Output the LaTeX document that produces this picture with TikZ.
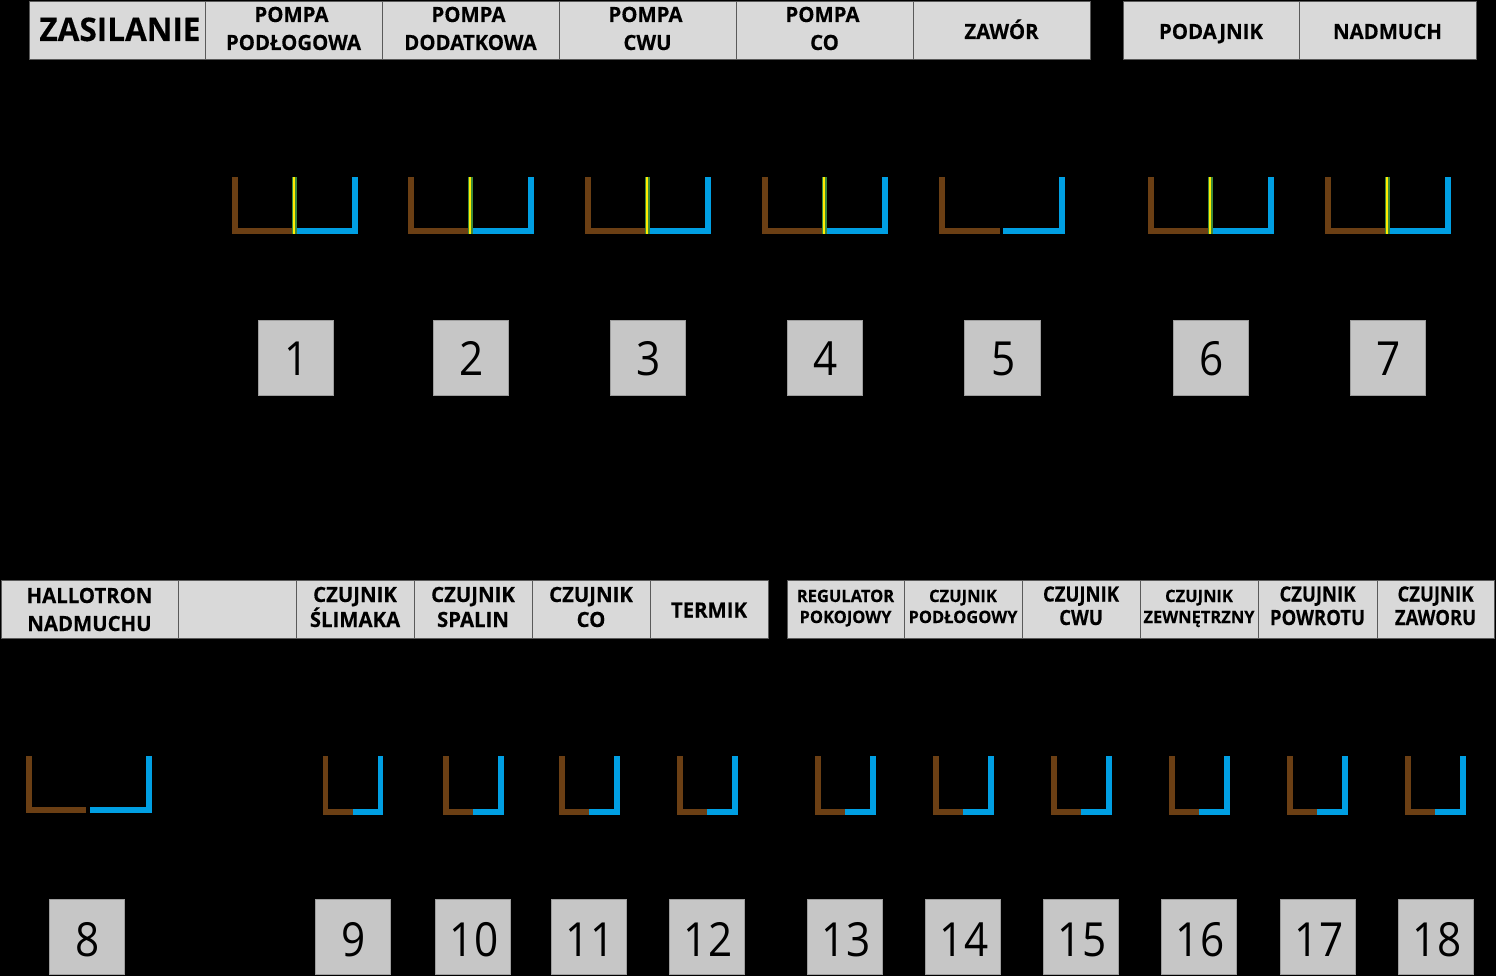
\documentclass[tikz,border=0pt]{standalone}
\usepackage{fontspec}
\setmainfont[FakeStretch=0.9]{Open Sans}
\newfontfamily\NarrowHead[FakeStretch=0.88,BoldFeatures={FakeBold=0.3}]{Open Sans}
\newfontfamily\WideHead[FakeStretch=0.97,BoldFeatures={FakeBold=0.3}]{Open Sans}
\definecolor{wirebrown}{HTML}{6B3F14}
\definecolor{wireblue}{HTML}{009FE3}
\definecolor{wiregreen}{HTML}{3C8A3A}
\definecolor{wireyellow}{HTML}{FFED00}
\definecolor{cellgray}{HTML}{D9D9D9}
\definecolor{boxgray}{HTML}{C6C6C6}
\definecolor{edgegray}{HTML}{5A5A5A}

% #1 name, #2 left, #3 brown end, #4 blue start, #5 right, #6 top, #7 bottom
\newcommand{\WirePair}[7]{
\coordinate (#1a) at (#2, #6);
\coordinate (#1b) at (#2, #7);
\coordinate (#1c) at (#3, #7);
\coordinate (#1d) at (#4, #7);
\coordinate (#1e) at (#5, #7);
\coordinate (#1f) at (#5, #6);
\draw[BrownWire] (#1a) -- (#1b) -- (#1c);
\draw[BlueWire] (#1d) -- (#1e) -- (#1f);
}
% #1 name, #2 x, #3 top, #4 bottom
\newcommand{\EarthWire}[4]{
\coordinate (#1g) at (#2, #3);
\coordinate (#1h) at (#2, #4);
\draw[GreenWire] (#1g) -- (#1h);
\draw[YellowWire] (#1g) -- (#1h);
}

\begin{document}
\begin{tikzpicture}[x = 1pt, y = -1pt]
\tikzstyle{HeadStyle}=[shape = rectangle,
                         fill = cellgray,
                         draw = edgegray,
                         line width = 0.8pt,
                         inner sep = 0pt,
                         minimum height = 58pt,
                         align = center,
                         font = \WideHead\fontsize{21}{28}\selectfont\bfseries]
\tikzstyle{OneLine}=[text height = 18pt, text depth = 0pt]
\tikzstyle{TwoLine}=[text height = 40pt, text depth = 0pt]
\tikzstyle{LowLeft}=[text height = 36pt, text depth = 0pt, font = \WideHead\fontsize{21}{25}\selectfont\bfseries]
\tikzstyle{LowRight}=[text height = 32pt, text depth = 0pt, font = \NarrowHead\fontsize{21}{23.5}\selectfont\bfseries]
\tikzstyle{SmallHead}=[text height = 28pt, text depth = 0pt, font = \WideHead\fontsize{17}{21}\selectfont\bfseries]
\tikzstyle{NumStyle}=[shape = rectangle,
                         fill = boxgray,
                         draw = boxgray!80!black,
                         line width = 0.8pt,
                         inner sep = 0pt,
                         minimum size = 75.5pt,
                         text depth = 0pt,
                         execute at begin node = {\hspace*{2pt}},
                         font = \fontsize{47}{47}\selectfont]
\tikzstyle{BrownWire}=[draw = wirebrown, line width = 5.8pt]
\tikzstyle{BlueWire}=[draw = wireblue, line width = 5.8pt]
\tikzstyle{GreenWire}=[draw = wiregreen, line width = 5pt]
\tikzstyle{YellowWire}=[draw = wireyellow, line width = 2.6pt]

\fill[black] (0, 0) rectangle (1496, 976);
\useasboundingbox (0, 0) rectangle (1496, 976);

% upper row
\node[HeadStyle, text height = 22pt, text depth = 0pt, minimum width = 176pt, font = \WideHead\fontsize{32.5}{33}\selectfont\bfseries] (zasilanie) at (117, 30) {\hspace*{6pt}ZASILANIE};
\node[HeadStyle, TwoLine, minimum width = 177pt] (pompaPodl) at (293.5, 30) {POMPA\hspace*{4pt}\\PODŁOGOWA};
\node[HeadStyle, TwoLine, minimum width = 177pt] (pompaDod) at (470.5, 30) {POMPA\hspace*{4pt}\\DODATKOWA};
\node[HeadStyle, TwoLine, minimum width = 177pt] (pompaCwu) at (647.5, 30) {POMPA\hspace*{4pt}\\CWU};
\node[HeadStyle, TwoLine, minimum width = 177pt] (pompaCo) at (824.5, 30) {POMPA\hspace*{4pt}\\CO};
\node[HeadStyle, OneLine, minimum width = 177pt] (zawor) at (1001.5, 30) {ZAWÓR};
\node[HeadStyle, OneLine, minimum width = 176pt] (podajnik) at (1211, 30) {PODAJNIK};
\node[HeadStyle, OneLine, minimum width = 177pt] (nadmuch) at (1387.5, 30) {NADMUCH};

\WirePair{w1}{235}{292}{296}{355}{177}{231}
\EarthWire{w1}{294}{177}{234}
\WirePair{w2}{411}{468}{472}{531}{177}{231}
\EarthWire{w2}{470}{177}{234}
\WirePair{w3}{588}{645}{649}{708}{177}{231}
\EarthWire{w3}{647}{177}{234}
\WirePair{w4}{765}{822}{826}{885}{177}{231}
\EarthWire{w4}{824}{177}{234}
\WirePair{w5}{942}{1000}{1003}{1062}{177}{231}
\WirePair{w6}{1151}{1208}{1212}{1271}{177}{231}
\EarthWire{w6}{1210}{177}{234}
\WirePair{w7}{1328}{1385}{1389}{1448}{177}{231}
\EarthWire{w7}{1387}{177}{234}

\node[NumStyle, text height = 34pt] (n1) at (296, 358) {1};
\node[NumStyle, text height = 34pt] (n2) at (471, 358) {2};
\node[NumStyle, text height = 34pt] (n3) at (648, 358) {3};
\node[NumStyle, text height = 34pt] (n4) at (825, 358) {4};
\node[NumStyle, text height = 34pt] (n5) at (1002.5, 358) {5};
\node[NumStyle, text height = 34pt] (n6) at (1211, 358) {6};
\node[NumStyle, text height = 34pt] (n7) at (1388, 358) {7};

% lower row
\node[HeadStyle, text height = 44pt, text depth = 0pt, minimum width = 177pt] (hallotron) at (89.5, 609) {HALLOTRON\\NADMUCHU};
\node[HeadStyle, minimum width = 118pt] (pusty) at (237, 609) {};
\node[HeadStyle, LowLeft, minimum width = 118pt] (slimak) at (355, 609) {CZUJNIK\\ŚLIMAKA};
\node[HeadStyle, LowLeft, minimum width = 118pt] (spaliny) at (473, 609) {CZUJNIK\\SPALIN};
\node[HeadStyle, LowLeft, minimum width = 118pt] (czujCo) at (591, 609) {CZUJNIK\\CO};
\node[HeadStyle, text height = 17pt, text depth = 0pt, minimum width = 118pt] (termik) at (709, 609) {TERMIK};
\node[HeadStyle, SmallHead, minimum width = 117pt] (regulator) at (845.5, 609) {REGULATOR\\POKOJOWY};
\node[HeadStyle, SmallHead, minimum width = 118pt] (czujPodl) at (963, 609) {CZUJNIK\\PODŁOGOWY};
\node[HeadStyle, LowRight, minimum width = 118pt] (czujCwu) at (1081, 609) {CZUJNIK\\CWU};
\node[HeadStyle, SmallHead, minimum width = 118pt] (czujZew) at (1199, 609) {CZUJNIK\\ZEWNĘTRZNY};
\node[HeadStyle, LowRight, minimum width = 119pt] (czujPow) at (1317.5, 609) {CZUJNIK\\POWROTU};
\node[HeadStyle, LowRight, minimum width = 117pt] (czujZaw) at (1435.5, 609) {CZUJNIK\\ZAWORU};

\WirePair{w8}{29}{86}{90}{149}{756}{810}
\WirePair{w9}{325.5}{353}{353}{380.5}{756}{812}
\WirePair{w10}{446}{473}{473}{501}{756}{812}
\WirePair{w11}{562}{589}{589}{617}{756}{812}
\WirePair{w12}{680}{707}{707}{735}{756}{812}
\WirePair{w13}{818}{845}{845}{873}{756}{812}
\WirePair{w14}{936}{963}{963}{991}{756}{812}
\WirePair{w15}{1054}{1081}{1081}{1109}{756}{812}
\WirePair{w16}{1172}{1199}{1199}{1227}{756}{812}
\WirePair{w17}{1290}{1317}{1317}{1345}{756}{812}
\WirePair{w18}{1408}{1435}{1435}{1463}{756}{812}

\node[NumStyle, text height = 38pt] (n8) at (87, 937) {8};
\node[NumStyle, text height = 38pt] (n9) at (353, 937) {9};
\node[NumStyle, text height = 38pt] (n10) at (473, 937) {10};
\node[NumStyle, text height = 38pt] (n11) at (589, 937) {11};
\node[NumStyle, text height = 38pt] (n12) at (707, 937) {12};
\node[NumStyle, text height = 38pt] (n13) at (845, 937) {13};
\node[NumStyle, text height = 38pt] (n14) at (963, 937) {14};
\node[NumStyle, text height = 38pt] (n15) at (1081, 937) {15};
\node[NumStyle, text height = 38pt] (n16) at (1199, 937) {16};
\node[NumStyle, text height = 38pt] (n17) at (1318, 937) {17};
\node[NumStyle, text height = 38pt] (n18) at (1436, 937) {18};
\end{tikzpicture}
\end{document}
